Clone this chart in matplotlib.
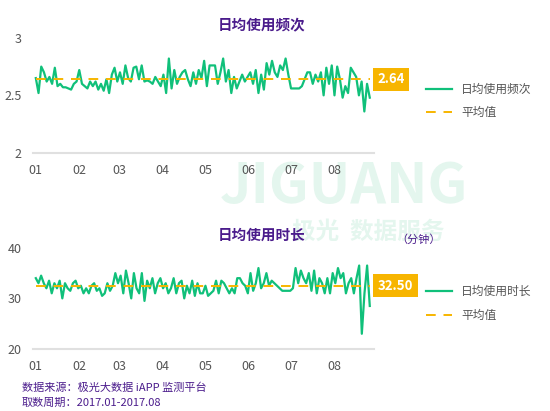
import numpy as np
import matplotlib.pyplot as plt

plt.rcParams["font.family"] = ["Noto Sans CJK SC", "DejaVu Sans"]

months = ["01", "02", "03", "04", "05", "06", "07", "08"]
month_start = [0, 31, 59, 90, 120, 151, 181, 212]
last_day = 237

freq = [2.65, 2.52, 2.75, 2.70, 2.62, 2.66, 2.60, 2.74, 2.58, 2.60, 2.57, 2.57, 2.56, 2.55, 2.60,
        2.62, 2.72, 2.60, 2.58, 2.56, 2.62, 2.58, 2.62, 2.55, 2.60, 2.54, 2.64, 2.52, 2.68, 2.74,
        2.62, 2.70, 2.60, 2.76, 2.65, 2.62, 2.74, 2.75, 2.64, 2.76, 2.62, 2.63, 2.62, 2.60, 2.66,
        2.62, 2.58, 2.68, 2.52, 2.82, 2.56, 2.72, 2.60, 2.66, 2.70, 2.72, 2.64, 2.58, 2.70, 2.60,
        2.72, 2.65, 2.80, 2.58, 2.76, 2.76, 2.76, 2.60, 2.70, 2.82, 2.62, 2.72, 2.52, 2.66, 2.56,
        2.62, 2.68, 2.62, 2.66, 2.70, 2.60, 2.72, 2.52, 2.68, 2.55, 2.78, 2.68, 2.80, 2.70, 2.66,
        2.76, 2.72, 2.82, 2.68, 2.56, 2.56, 2.56, 2.56, 2.58, 2.64, 2.70, 2.70,
        2.60, 2.68, 2.62, 2.70, 2.50, 2.74, 2.60, 2.76, 2.50, 2.75, 2.64, 2.48, 2.58, 2.52, 2.74,
        2.70, 2.66, 2.50, 2.62, 2.36, 2.60, 2.48]
freq_avg = 2.64

dur = [34, 33, 34.5, 33, 32, 33.5, 31, 33, 32, 33.5, 30, 33, 32, 31.5, 33,
       33.5, 32, 32.5, 31, 32, 31, 32.5, 33, 31.5, 32, 30.5, 31, 33, 31.5, 32.5,
       35, 33, 34.5, 31, 35.5, 33, 30, 35, 32, 31, 35, 29.5, 33.5, 32, 34,
       31, 33, 34, 32, 33, 31, 32, 34, 31, 33, 33.5, 30, 32.5, 31, 33.5,
       30.5, 33, 31, 31, 32.5, 30.5, 31, 31.5, 33.5, 31, 33.5, 33, 32, 31, 32,
       31, 34, 34, 33, 32.5, 31, 35, 31.5, 33, 36, 32, 33, 35, 32.5, 33.5,
       33, 32.5, 32, 31.5, 31.5, 31.5, 31.5, 32, 36, 33, 35.5, 34, 33, 35, 31.5,
       35.5, 31, 34, 33, 31, 34, 31, 35, 33, 36, 34, 35, 31, 33, 34,
       31, 34, 36.5, 23, 31, 36.5, 28.5]
dur_avg = 32.50

green = "#10c07a"
orange = "#f7b500"
purple = "#4b1c8c"
grey = "#555555"
wm = "#e4f6ee"

fig = plt.figure(figsize=(5.5, 4.11), dpi=100)

# watermark
fig.text(0.40, 0.545, "JIGUANG", fontsize=40, fontweight="bold", color=wm,
         ha="left", va="center", zorder=0)
fig.text(0.53, 0.435, "极光  数据服务", fontsize=17, fontweight="bold", color=wm,
         ha="left", va="center", zorder=0)


def panel(rect, y, avg, ylim, yticks, title, fmt):
    ax = fig.add_axes(rect, zorder=2)
    ax.patch.set_alpha(0)
    x = np.linspace(0, last_day, len(y))
    ax.plot(x, y, color=green, lw=1.6, label=title)
    ax.plot([0, last_day], [avg, avg], color=orange, lw=1.4, ls=(0, (5, 4)), label="平均值")
    ax.set_xlim(-2, last_day + 3)
    ax.set_ylim(*ylim)
    ax.set_yticks(yticks)
    ax.set_yticklabels([str(t) for t in yticks], fontsize=9, color=grey)
    ax.set_xticks(month_start)
    ax.set_xticklabels(months, fontsize=9, color=grey)
    ax.tick_params(length=0, pad=8)
    for s in ["top", "right", "left"]:
        ax.spines[s].set_visible(False)
    ax.spines["bottom"].set_color("#e0e0e0")
    ax.spines["bottom"].set_linewidth(1.5)
    ax.text(1.01, avg, fmt.format(avg), transform=ax.get_yaxis_transform(),
            ha="left", va="center", fontsize=9.5, color="white", fontweight="bold",
            bbox=dict(boxstyle="square,pad=0.35", fc=orange, ec="none"), clip_on=False)
    ax.text(0.67, 1.05, title, transform=ax.transAxes, ha="center", va="bottom",
            fontsize=10.5, fontweight="bold", color=purple)
    ax.legend(loc="center left", bbox_to_anchor=(1.12, 0.45), frameon=False, fontsize=8.5,
              handlelength=2.2, labelspacing=0.9, labelcolor=grey)
    return ax


panel([0.06, 0.628, 0.62, 0.28], freq, freq_avg, (2, 3), [2, 2.5, 3],
      "日均使用频次", "{:.2f}")
panel([0.06, 0.151, 0.62, 0.246], dur, dur_avg, (20, 40), [20, 30, 40],
      "日均使用时长", "{:.2f}")
fig.text(0.72, 0.408, "（分钟）", fontsize=8, color=purple, zorder=3)

fig.text(0.04, 0.048, "数据来源：极光大数据 iAPP 监测平台", fontsize=8, color=purple, style="italic")
fig.text(0.04, 0.012, "取数周期：2017.01-2017.08", fontsize=8, color=purple, style="italic")

fig.savefig("out.png", dpi=100)
